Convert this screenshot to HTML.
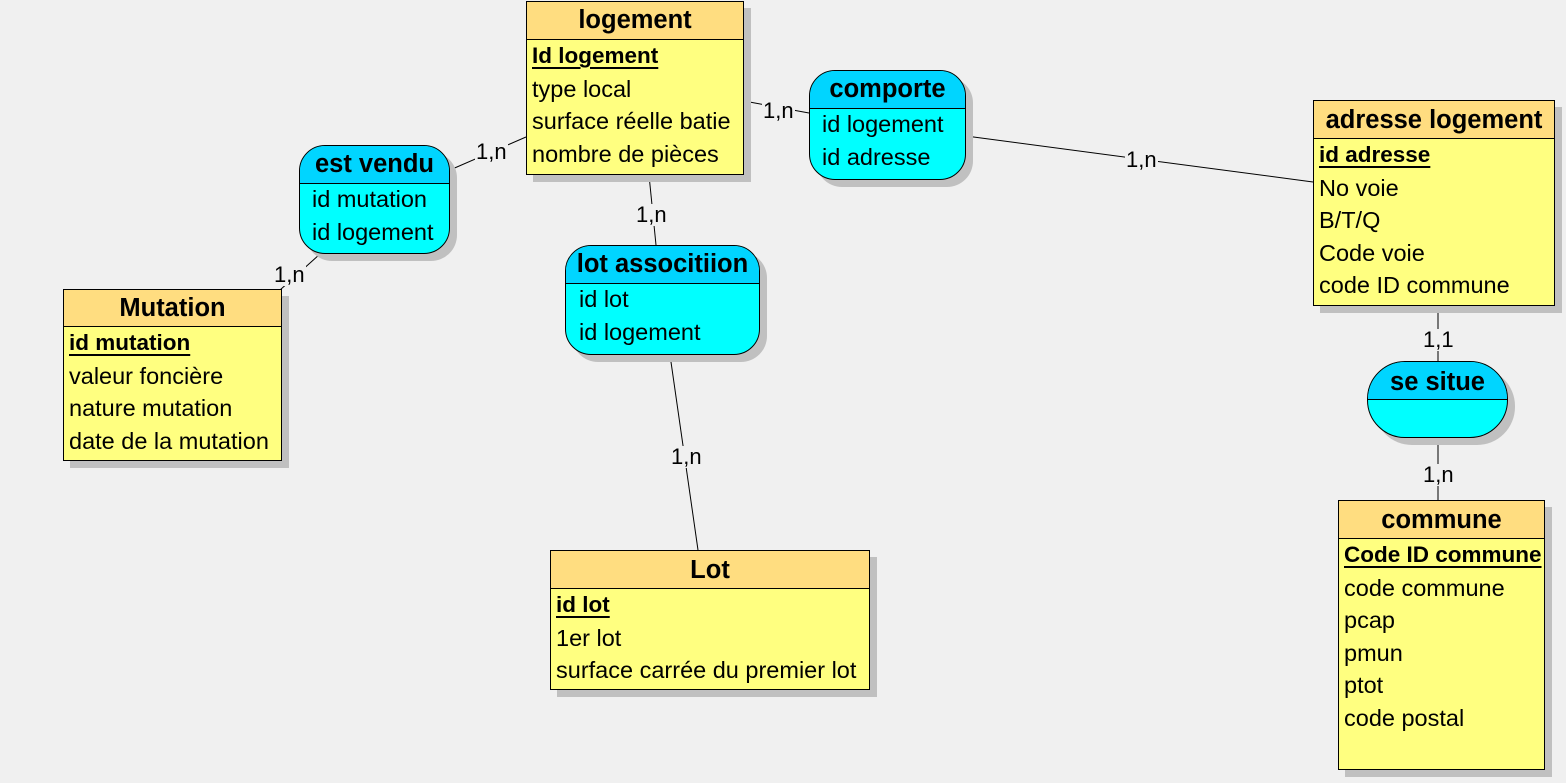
<!DOCTYPE html>
<html><head><meta charset="utf-8">
<style>
html,body{margin:0;padding:0}
body{width:1566px;height:783px;background:#f0f0f0;position:relative;overflow:hidden;font-family:"Liberation Sans",sans-serif;color:#000}
.b{position:absolute;border:1px solid #000;box-shadow:7px 7px 0 #c0c0c0;box-sizing:border-box;overflow:hidden}
.e{background:#ffff80}
.e .h{background:#ffdd80}
.a{background:#00ffff;border-radius:26px}
.a .h{background:#00d5ff}
.h{border-bottom:1px solid #000;font-weight:bold;font-size:25.5px;text-align:center;box-sizing:border-box}
.r{font-size:23.5px;line-height:32.5px;padding-left:5px;white-space:nowrap}
.rows{padding-top:0;margin-top:-1px}
.k{font-weight:bold;text-decoration:underline;text-underline-offset:4px;font-size:22.5px}
.lb{position:absolute;font-size:22px;background:#f0f0f0;line-height:22px;padding:0 1px}
svg{position:absolute;left:0;top:0}
</style></head><body>
<svg width="1566" height="783">
<g stroke="#000" stroke-width="1">
<line x1="526" y1="137" x2="450" y2="170"/>
<line x1="320" y1="254" x2="280" y2="290"/>
<line x1="649" y1="175" x2="656" y2="245"/>
<line x1="670" y1="355" x2="698" y2="550"/>
<line x1="744" y1="101" x2="809" y2="113"/>
<line x1="966" y1="136" x2="1313" y2="182"/>
<line x1="1438" y1="306" x2="1438" y2="361"/>
<line x1="1438" y1="438" x2="1438" y2="500"/>
</g></svg>

<div class="lb" style="left:475px;top:141px">1,n</div>
<div class="lb" style="left:273px;top:264px">1,n</div>
<div class="lb" style="left:635px;top:204px">1,n</div>
<div class="lb" style="left:670px;top:446px">1,n</div>
<div class="lb" style="left:762px;top:100px">1,n</div>
<div class="lb" style="left:1125px;top:149px">1,n</div>
<div class="lb" style="left:1422px;top:329px">1,1</div>
<div class="lb" style="left:1422px;top:464px">1,n</div>

<div class="b e" style="left:526px;top:1px;width:218px;height:174px">
<div class="h" style="height:38px;line-height:37px">logement</div>
<div class="rows"><div class="r"><span class="k">Id logement</span></div><div class="r">type local</div><div class="r">surface réelle batie</div><div class="r">nombre de pièces</div></div></div>

<div class="b a" style="left:299px;top:145px;width:151px;height:109px">
<div class="h" style="height:38px;line-height:37px">est vendu</div>
<div class="rows" style="padding-left:7px"><div class="r">id mutation</div><div class="r">id logement</div></div></div>

<div class="b e" style="left:63px;top:289px;width:219px;height:172px">
<div class="h" style="height:37px;line-height:37px">Mutation</div>
<div class="rows"><div class="r"><span class="k">id mutation</span></div><div class="r">valeur foncière</div><div class="r">nature mutation</div><div class="r">date de la mutation</div></div></div>

<div class="b a" style="left:565px;top:245px;width:195px;height:110px">
<div class="h" style="height:38px;line-height:37px">lot associtiion</div>
<div class="rows" style="padding-left:8px"><div class="r">id lot</div><div class="r">id logement</div></div></div>

<div class="b e" style="left:550px;top:550px;width:320px;height:140px">
<div class="h" style="height:38px;line-height:38px">Lot</div>
<div class="rows"><div class="r"><span class="k">id lot</span></div><div class="r">1er lot</div><div class="r">surface carrée du premier lot</div></div></div>

<div class="b a" style="left:809px;top:70px;width:157px;height:110px">
<div class="h" style="height:38px;line-height:37px">comporte</div>
<div class="rows" style="padding-left:7px"><div class="r">id logement</div><div class="r">id adresse</div></div></div>

<div class="b e" style="left:1313px;top:100px;width:242px;height:206px">
<div class="h" style="height:38px;line-height:38px">adresse logement</div>
<div class="rows"><div class="r"><span class="k">id adresse</span></div><div class="r">No voie</div><div class="r">B/T/Q</div><div class="r">Code voie</div><div class="r">code ID commune</div></div></div>

<div class="b a" style="left:1367px;top:361px;width:141px;height:77px;border-radius:38px">
<div class="h" style="height:38px;line-height:40px">se situe</div></div>

<div class="b e" style="left:1338px;top:500px;width:207px;height:270px">
<div class="h" style="height:38px;line-height:38px">commune</div>
<div class="rows"><div class="r"><span class="k">Code ID commune</span></div><div class="r">code commune</div><div class="r">pcap</div><div class="r">pmun</div><div class="r">ptot</div><div class="r">code postal</div></div></div>
</body></html>
